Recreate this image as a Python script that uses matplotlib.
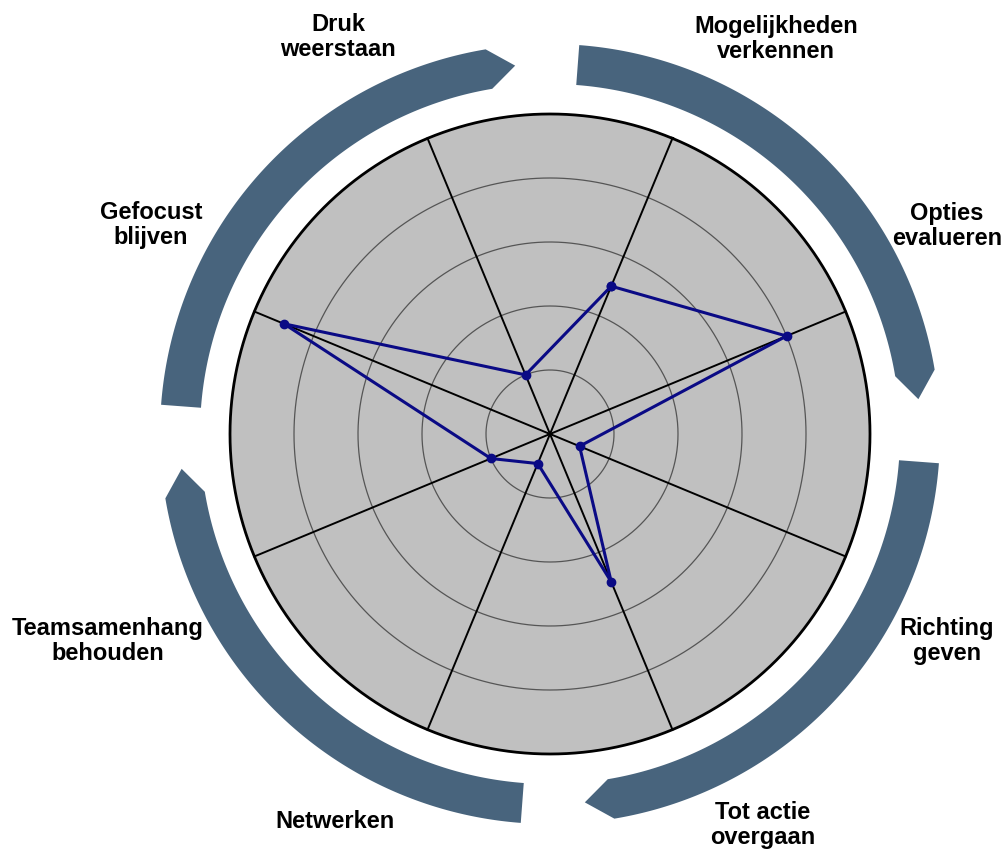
import numpy as np
import matplotlib.pyplot as plt

categories = ["Mogelijkheden\nverkennen", "Opties\nevalueren", "Richting\ngeven",
              "Tot actie\novergaan", "Netwerken", "Teamsamenhang\nbehouden",
              "Gefocust\nblijven", "Druk\nweerstaan"]
scores = [2.5, 4.0, 0.5, 2.5, 0.5, 1.0, 4.5, 1.0]
levels = [1, 2, 3, 4]
r_max = 5

# label centres in pixels (x, y from top)
label_pos = [(776, 39), (947, 226), (947, 641), (763, 825),
             (335, 821), (108, 641), (151, 225), (338, 37)]

W, H = 1004, 855
cx, cy, unit = 550, 434, 64   # disc centre (px) and px per score unit
lim = 6.5

fig = plt.figure(figsize=(W / 100, H / 100), dpi=100)
ax = fig.add_axes([(cx - lim * unit) / W, (H - cy - lim * unit) / H,
                   2 * lim * unit / W, 2 * lim * unit / H], projection='polar')
ax.set_theta_zero_location('N')
ax.set_theta_direction(-1)
ax.set_ylim(0, lim)
ax.set_xticks([])
ax.set_yticks([])
ax.grid(False)
ax.axis('off')

n = len(categories)
angles = np.deg2rad(22.5 + 45 * np.arange(n))
# start the circles on a spoke so the seam is hidden
full = angles[0] + np.linspace(0, 2 * np.pi, 721)

# grey disc, rings, spokes
ax.fill(full, np.full_like(full, r_max), color='#c0c0c0', lw=0, zorder=1)
for lv in levels:
    ax.plot(full, np.full_like(full, lv), color='#555555', lw=0.9, zorder=2)
for a in angles:
    ax.plot([a, a], [0, r_max], color='black', lw=1.4, zorder=3)
ax.plot(full, np.full_like(full, r_max), color='black', lw=2, zorder=3)

# outer arrows (clockwise)
r_in, r_out = 350 / unit, 390 / unit
r_mid = (r_in + r_out) / 2
for k in range(4):
    s, b, t = k * 90 + 4.3, k * 90 + 80.5, k * 90 + 84.6
    th = np.deg2rad(np.linspace(s, b, 200))
    theta = np.concatenate([th, [np.deg2rad(t)], th[::-1]])
    rr = np.concatenate([np.full(200, r_out), [r_mid], np.full(200, r_in)])
    ax.fill(theta, rr, color='#48647d', lw=0, zorder=0.5)

# scores
ax.plot(np.append(angles, angles[0]), scores + [scores[0]], color='#0a0a85',
        lw=2.2, marker='o', ms=6, zorder=5)

for lab, (x, y) in zip(categories, label_pos):
    fig.text(x / W, 1 - y / H, lab, ha='center', va='center', fontsize=17,
             fontweight='bold', family='Liberation Sans', linespacing=1.15)

fig.savefig('out.png', dpi=100)
